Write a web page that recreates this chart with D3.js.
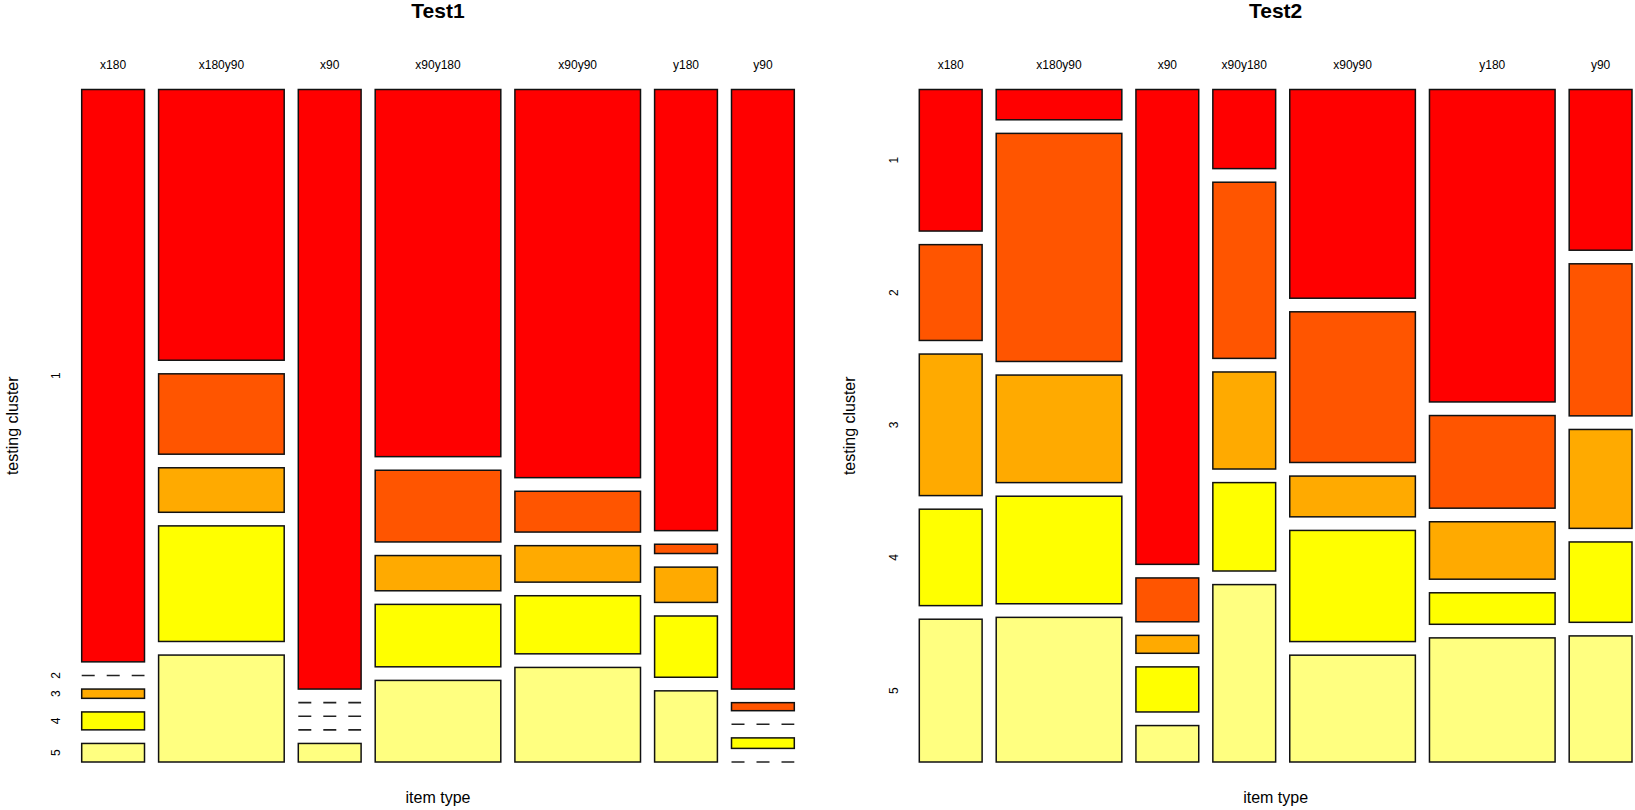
<!DOCTYPE html>
<meta charset="utf-8">
<html>
<head>
	<title>Test1 / Test2 mosaic</title>
	<script src="https://cdn.jsdelivr.net/npm/d3@7"></script>
	<style>
		body { margin: 0; background: #fff; }
		text { font-family: "Liberation Sans", Arial, sans-serif; fill: #000; }
	</style>
</head>
<body>
	<svg id="chart" width="1635" height="810"></svg>
	<script>
		// categories
		var itemTypes = ["x180", "x180y90", "x90", "x90y180", "x90y90", "y180", "y90"];
		var clusters = ["1", "2", "3", "4", "5"];
		var heat = ["#FF0000", "#FF5500", "#FFAA00", "#FFFF00", "#FFFF80"];

		// relative size of each item type (column widths)
		var weights1 = [1, 2, 1, 2, 2, 1, 1];
		var weights2 = [1, 2, 1, 1, 2, 2, 1];

		// share (%) of each testing cluster 1..5 inside an item type
		var share1 = [
			[92.6, 0, 1.5, 2.9, 3.0],
			[43.8, 13.0, 7.2, 18.7, 17.3],
			[97.0, 0, 0, 0, 3.0],
			[59.4, 11.6, 5.7, 10.1, 13.2],
			[62.8, 6.6, 5.9, 9.4, 15.3],
			[71.3, 1.5, 5.7, 9.9, 11.5],
			[97.0, 1.3, 0, 1.7, 0]
		];
		var share2 = [
			[22.9, 15.5, 22.9, 15.6, 23.1],
			[4.9, 36.9, 17.4, 17.4, 23.4],
			[76.9, 7.1, 2.9, 7.3, 5.9],
			[12.8, 28.5, 15.7, 14.3, 28.7],
			[33.8, 24.4, 6.6, 18.0, 17.3],
			[50.6, 15.0, 9.3, 5.1, 20.1],
			[26.0, 24.6, 16.0, 13.0, 20.4]
		];

		var svg = d3.select("#chart");
		var plotTop = 89.5, plotBottom = 762, gapX = 14.1, gapY = 13.6;

		function mosaic(title, weights, share, x0, x1) {
			var g = svg.append("g");
			var total = d3.sum(weights);
			var xs = d3.scaleLinear().domain([0, total]).range([0, (x1 - x0) - gapX * (weights.length - 1)]);
			var ys = d3.scaleLinear().domain([0, 100]).range([0, (plotBottom - plotTop) - gapY * (clusters.length - 1)]);
			var cum = 0;
			var cols = weights.map(function (w, i) {
				var c = { name: itemTypes[i], x: x0 + xs(cum) + i * gapX, w: xs(w) };
				cum += w;
				var s = d3.sum(share[i]), acc = 0;
				c.cells = share[i].map(function (v, j) {
					var p = v / s * 100;
					var cell = { j: j, y: plotTop + ys(acc) + j * gapY, h: ys(p) - ys(0), zero: v == 0, col: c };
					acc += p;
					return cell;
				});
				return c;
			});

			var col = g.selectAll("g.col").data(cols).enter().append("g").attr("class", "col");

			col.selectAll("rect").data(function (d) { return d.cells.filter(function (c) { return !c.zero; }); })
				.enter().append("rect")
				.attr("x", function (d) { return d.col.x; })
				.attr("y", function (d) { return d.y; })
				.attr("width", function (d) { return d.col.w; })
				.attr("height", function (d) { return d.h; })
				.attr("fill", function (d) { return heat[d.j]; })
				.attr("stroke", "#111")
				.attr("stroke-width", 1.5);

			// empty cells are drawn as a dashed line
			col.selectAll("line").data(function (d) { return d.cells.filter(function (c) { return c.zero; }); })
				.enter().append("line")
				.attr("x1", function (d) { return d.col.x; })
				.attr("x2", function (d) { return d.col.x + d.col.w; })
				.attr("y1", function (d) { return d.y; })
				.attr("y2", function (d) { return d.y; })
				.attr("stroke", "#222")
				.attr("stroke-width", 1.6)
				.attr("stroke-dasharray", "13,12");

			// column labels
			g.selectAll("text.xlab").data(cols).enter().append("text")
				.attr("class", "xlab")
				.attr("x", function (d) { return d.x + d.w / 2; })
				.attr("y", 65)
				.attr("dy", "0.35em")
				.attr("text-anchor", "middle")
				.attr("font-size", "12px")
				.text(function (d) { return d.name; });

			// cluster labels, placed on the first column
			g.selectAll("text.ylab").data(cols[0].cells).enter().append("text")
				.attr("class", "ylab")
				.attr("transform", function (d) { return "translate(" + (x0 - 25.7) + "," + (d.y + d.h / 2) + ") rotate(-90)"; })
				.attr("dy", "0.35em")
				.attr("text-anchor", "middle")
				.attr("font-size", "12px")
				.text(function (d) { return clusters[d.j]; });

			var cx = (x0 + x1) / 2;
			g.append("text")
				.attr("x", cx)
				.attr("y", 11)
				.attr("dy", "0.35em")
				.attr("text-anchor", "middle")
				.attr("font-size", "21px")
				.attr("font-weight", "bold")
				.text(title);

			g.append("text")
				.attr("x", cx)
				.attr("y", 797)
				.attr("dy", "0.35em")
				.attr("text-anchor", "middle")
				.attr("font-size", "16px")
				.text("item type");

			g.append("text")
				.attr("transform", "translate(" + (x0 - 69.7) + "," + ((plotTop + plotBottom) / 2) + ") rotate(-90)")
				.attr("dy", "0.35em")
				.attr("text-anchor", "middle")
				.attr("font-size", "16px")
				.text("testing cluster");
		}

		mosaic("Test1", weights1, share1, 81.7, 794.3);
		mosaic("Test2", weights2, share2, 919.3, 1632);
	</script>
</body>
</html>
